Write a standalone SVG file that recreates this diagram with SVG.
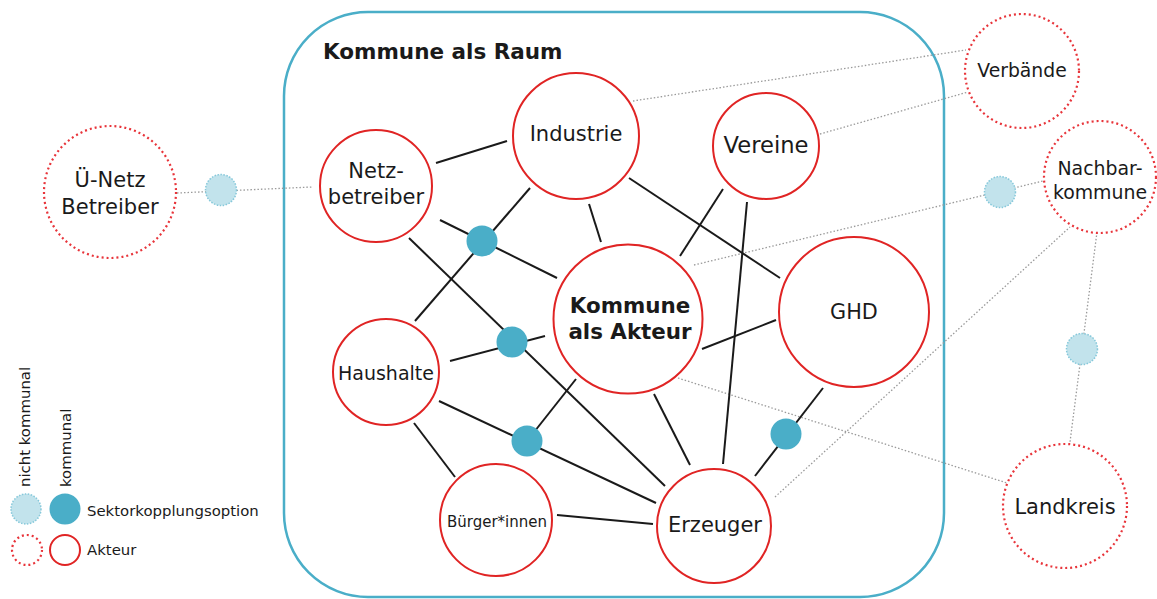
<svg xmlns="http://www.w3.org/2000/svg" width="1157" height="599" viewBox="0 0 1157 599">
<style>
text{font-family:"DejaVu Sans",Verdana,sans-serif;fill:#1a1a1a}
.c{text-anchor:middle}
.act{fill:#fff;stroke:#e02424;stroke-width:2}
.ext{fill:#fff;stroke:#e8343a;stroke-width:2.2;stroke-dasharray:2 3}
.kom{fill:#4aaec8;stroke:none}
.nk{fill:#c2e3ec;stroke:#86c8da;stroke-width:1.5;stroke-dasharray:1.5 1.5}
.ln{stroke:#1a1a1a;stroke-width:2;fill:none}
.dl{stroke:#9a9a9a;stroke-width:1.3;stroke-dasharray:1.5 2;fill:none}
</style>
<rect x="0" y="0" width="1157" height="599" fill="#fff"/>
<g id="raum">
<rect x="284" y="12" width="660" height="585" rx="84" ry="84" fill="none" stroke="#4aaec8" stroke-width="2.5"/>
<text x="323" y="59" font-size="21.5" font-weight="bold">Kommune als Raum</text>
</g>
<g id="connectors">
<line class="dl" x1="177" y1="193" x2="312" y2="187"/>
<line class="dl" x1="633" y1="101" x2="966" y2="50"/>
<line class="dl" x1="820" y1="134" x2="968" y2="92"/>
<line class="dl" x1="694" y1="265" x2="1043" y2="181"/>
<line class="dl" x1="678" y1="378" x2="1007" y2="483"/>
<line class="dl" x1="775" y1="497" x2="1070" y2="227"/>
<line class="dl" x1="1097" y1="232" x2="1070" y2="442"/>
<line class="ln" x1="436" y1="163" x2="507" y2="141"/>
<line class="ln" x1="530" y1="188" x2="415" y2="321"/>
<line class="ln" x1="440" y1="220" x2="557" y2="278"/>
<line class="ln" x1="409" y1="238" x2="665" y2="486"/>
<line class="ln" x1="450" y1="361" x2="545" y2="336"/>
<line class="ln" x1="576" y1="379" x2="527" y2="441"/>
<line class="ln" x1="439" y1="401" x2="656" y2="503"/>
<line class="ln" x1="414" y1="423" x2="455" y2="477"/>
<line class="ln" x1="557" y1="515" x2="653" y2="524"/>
<line class="ln" x1="654" y1="394" x2="690" y2="465"/>
<line class="ln" x1="589" y1="204" x2="601" y2="242"/>
<line class="ln" x1="629" y1="178" x2="780" y2="278"/>
<line class="ln" x1="723" y1="189" x2="680" y2="256"/>
<line class="ln" x1="747" y1="202" x2="723" y2="464"/>
<line class="ln" x1="702" y1="349" x2="776" y2="320"/>
<line class="ln" x1="823" y1="388" x2="755" y2="476"/>
</g>
<g id="netzbetreiber"><circle class="act" cx="376" cy="186" r="56"/><text class="c" x="376" y="178" font-size="21">Netz-</text><text class="c" x="376" y="204" font-size="21">betreiber</text></g>
<g id="industrie"><circle class="act" cx="576" cy="136" r="63"/><text class="c" x="576" y="141" font-size="21">Industrie</text></g>
<g id="vereine"><circle class="act" cx="766" cy="146" r="53"/><text class="c" x="766" y="153" font-size="22.6">Vereine</text></g>
<g id="kommune-akteur"><circle class="act" cx="628" cy="319" r="74.5"/><text class="c" x="630" y="313" font-size="21.4" font-weight="bold">Kommune</text><text class="c" x="630" y="339" font-size="21.4" font-weight="bold">als Akteur</text></g>
<g id="ghd"><circle class="act" cx="854" cy="312" r="75"/><text class="c" x="854" y="319" font-size="20.8">GHD</text></g>
<g id="haushalte"><circle class="act" cx="386" cy="372" r="53"/><text class="c" x="386" y="380" font-size="19">Haushalte</text></g>
<g id="buerger"><circle class="act" cx="496" cy="520" r="56"/><text class="c" x="497" y="527" font-size="15">Bürger*innen</text></g>
<g id="erzeuger"><circle class="act" cx="714" cy="526" r="57"/><text class="c" x="715" y="532" font-size="21">Erzeuger</text></g>
<g id="ue-netz"><circle class="ext" cx="110" cy="192" r="66"/><text class="c" x="110" y="187" font-size="21">Ü-Netz</text><text class="c" x="110" y="214" font-size="21">Betreiber</text></g>
<g id="verbaende"><circle class="ext" cx="1022" cy="71" r="57"/><text class="c" x="1022" y="77" font-size="18.8">Verbände</text></g>
<g id="nachbarkommune"><circle class="ext" cx="1100" cy="177" r="56"/><text class="c" x="1100" y="175" font-size="18.9">Nachbar-</text><text class="c" x="1100" y="199" font-size="18.9">kommune</text></g>
<g id="landkreis"><circle class="ext" cx="1065" cy="506" r="62"/><text class="c" x="1065" y="514" font-size="21">Landkreis</text></g>
<g id="sk1"><circle class="kom" cx="482" cy="241" r="15.5"/></g>
<g id="sk2"><circle class="kom" cx="512" cy="342" r="15.5"/></g>
<g id="sk3"><circle class="kom" cx="527" cy="441" r="15.5"/></g>
<g id="sk4"><circle class="kom" cx="786" cy="434" r="15.5"/></g>
<g id="nsk1"><circle class="nk" cx="221" cy="190" r="15.5"/></g>
<g id="nsk2"><circle class="nk" cx="1000" cy="192" r="15.5"/></g>
<g id="nsk3"><circle class="nk" cx="1082" cy="349" r="15.5"/></g>
<g id="legend">
<text x="30" y="487" font-size="14.9" transform="rotate(-90 30 487)">nicht kommunal</text>
<text x="71" y="487" font-size="14.9" transform="rotate(-90 71 487)">kommunal</text>
<circle class="nk" cx="26" cy="509" r="15"/>
<circle class="kom" cx="65" cy="509" r="15.5"/>
<text x="87" y="516" font-size="14.9">Sektorkopplungsoption</text>
<circle class="ext" cx="27" cy="550" r="15" stroke-dasharray="2 2.7"/>
<circle class="act" cx="65" cy="550" r="15" stroke-width="1.5" stroke="#e86060"/>
<text x="87" y="555" font-size="14.9">Akteur</text>
</g>
</svg>
